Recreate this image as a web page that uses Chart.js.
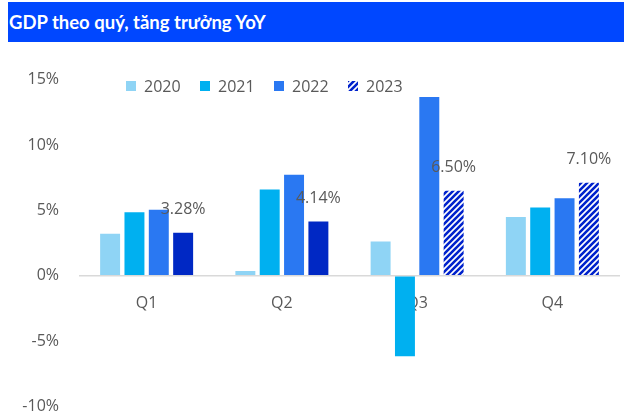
<!DOCTYPE html>
<html lang="vi">
<head>
<meta charset="UTF-8">
<title>GDP theo quý</title>
<script src="https://cdn.jsdelivr.net/npm/chart.js"></script>
<style>
  body { margin: 0; background: #fff; font-family: "Open Sans", "Noto Sans", sans-serif; }
  .wrap { position: relative; width: 624px; height: 415px; overflow: hidden; }
  .title {
    position: absolute; left: 8px; top: 2px; width: 616px; height: 40px;
    background: #0047FF; color: #fff; font-family: Lato, "Open Sans", sans-serif;
    font-weight: 700; font-size: 18.5px; line-height: 40px; padding-left: 1px; box-sizing: border-box;
  }
  /* taller than the window: the bottom strip below -10% is clipped */
  .chart-box { position: absolute; left: 0; top: 50px; width: 624px; height: 386px; }
  .legend { position: absolute; left: 126px; top: 75px; display: flex; font-size: 16px; color: #595959; }
  .legend .item { width: 74px; display: flex; align-items: center; }
  .legend .sw { width: 10px; height: 10px; margin-right: 8px; }
</style>
</head>
<body>
<div class="wrap">
  <div class="title">GDP theo quý, tăng trưởng YoY</div>
  <div class="chart-box"><canvas id="myChart"></canvas></div>
  <div class="legend" id="legend"></div>
</div>

<script>
  // data
  const quarters = ['Q1', 'Q2', 'Q3', 'Q4'];
  const years = ['2020', '2021', '2022', '2023'];
  const gdp2020 = [3.2, 0.36, 2.62, 4.48];
  const gdp2021 = [4.85, 6.6, -6.17, 5.22];
  const gdp2022 = [5.05, 7.72, 13.67, 5.92];
  const gdp2023 = [3.28, 4.14, 6.50, 7.10];
  const yTicks = [-10, -5, 0, 5, 10, 15];

  const colors = ['#8FD4F5', '#00B0F0', '#2A78F2', '#0028C4'];
  const grey = '#595959';
  const font = '"Open Sans", "Noto Sans", sans-serif';

  // striped fill for the 2023 estimate bars
  function makeStripes() {
    const s = 6;
    const c = document.createElement('canvas');
    c.width = s; c.height = s;
    const g = c.getContext('2d');
    g.fillStyle = '#fff';
    g.fillRect(0, 0, s, s);
    g.strokeStyle = '#0022CC';
    g.lineWidth = 2.6;
    g.beginPath();
    g.moveTo(0, s); g.lineTo(s, 0);
    g.moveTo(-2, 2); g.lineTo(2, -2);
    g.moveTo(s - 2, s + 2); g.lineTo(s + 2, s - 2);
    g.stroke();
    return c;
  }
  const stripeCanvas = makeStripes();
  const ctx = document.getElementById('myChart').getContext('2d');
  const stripes = ctx.createPattern(stripeCanvas, 'repeat');

  const fill2023 = [colors[3], colors[3], stripes, stripes];

  // legend
  const legend = document.getElementById('legend');
  years.forEach((y, i) => {
    const item = document.createElement('div');
    item.className = 'item';
    const sw = document.createElement('span');
    sw.className = 'sw';
    if (i === 3) {
      sw.style.backgroundImage = 'url(' + stripeCanvas.toDataURL() + ')';
    } else {
      sw.style.background = colors[i];
    }
    item.appendChild(sw);
    item.appendChild(document.createTextNode(y));
    legend.appendChild(item);
  });

  const labels2023 = {
    id: 'labels2023',
    afterDatasetsDraw(chart) {
      const meta = chart.getDatasetMeta(3);
      const c = chart.ctx;
      c.save();
      c.font = '16px ' + font;
      c.fillStyle = grey;
      c.textAlign = 'center';
      c.textBaseline = 'middle';
      meta.data.forEach((bar, i) => {
        c.fillText(gdp2023[i].toFixed(2) + '%', bar.x, bar.y - 23);
      });
      c.restore();
    }
  };

  const ds = (label, data, bg) => ({
    label: label, data: data, backgroundColor: bg,
    borderWidth: 0, categoryPercentage: 0.72, barPercentage: 0.82
  });

  new Chart(ctx, {
    type: 'bar',
    data: {
      labels: quarters,
      datasets: [
        ds(years[0], gdp2020, colors[0]),
        ds(years[1], gdp2021, colors[1]),
        ds(years[2], gdp2022, colors[2]),
        ds(years[3], gdp2023, fill2023)
      ]
    },
    options: {
      responsive: true,
      maintainAspectRatio: false,
      animation: false,
      layout: { padding: { top: 24, right: 4, bottom: 10, left: 0 } },
      plugins: { legend: { display: false }, tooltip: { enabled: false } },
      scales: {
        x: {
          position: { y: 0 },
          z: 1,
          grid: { display: false, drawTicks: false },
          border: { display: false },
          ticks: { color: grey, font: { size: 16, family: font }, padding: 18 }
        },
        y: {
          min: yTicks[0], max: yTicks[yTicks.length - 1],
          afterBuildTicks: (s) => { s.ticks = yTicks.map(v => ({ value: v })); },
          afterFit: (s) => { s.width = 79; },
          grid: {
            drawTicks: false,
            color: (c) => c.tick && c.tick.value === 0 ? '#D9D9D9' : 'transparent',
            lineWidth: 1.5
          },
          border: { display: false },
          ticks: {
            color: grey, padding: 20,
            font: { size: 16, family: font },
            callback: (v) => v + '%'
          }
        }
      }
    },
    plugins: [labels2023]
  });
</script>
</body>
</html>
